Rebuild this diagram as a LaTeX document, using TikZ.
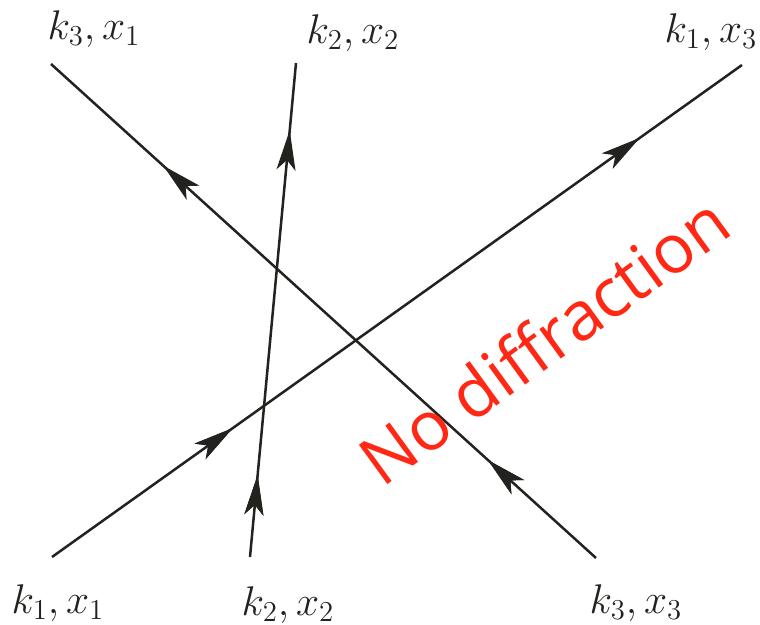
\documentclass[tikz,border=0pt]{standalone}
\usepackage{fontspec}
\newfontfamily\redfont{Open Sans}
\usetikzlibrary{arrows.meta,decorations.markings}
\definecolor{linecol}{RGB}{34,34,30}
\definecolor{redtext}{RGB}{255,40,20}
\tikzset{
  ray/.style={line width=1.25pt, draw=linecol},
  tipmark/.style={decoration={markings,
      mark=at position #1 with {\arrow[linecol]{Stealth[length=20pt,width=9.5pt,inset=5pt]}}},
      postaction={decorate}},
  lab/.style={font=\fontsize{20}{23}\selectfont, text=linecol, inner sep=0pt}
}
\begin{document}
\begin{tikzpicture}[x=0.5pt,y=-0.5pt]
\useasboundingbox (0,0) rectangle (760,625);
% endpoints
\coordinate (a1) at (52,557);
\coordinate (a2) at (742,65);
\coordinate (b1) at (250,557);
\coordinate (b2) at (296,63);
\coordinate (c1) at (596,558);
\coordinate (c2) at (51,64);
% rays
\draw[ray, tipmark=0.262, postaction={decorate, decoration={markings,
   mark=at position 0.852 with {\arrow[linecol]{Stealth[length=20pt,width=9.5pt,inset=5pt]}}}}] (a1) -- (a2);
\draw[ray, tipmark=0.166, postaction={decorate, decoration={markings,
   mark=at position 0.864 with {\arrow[linecol]{Stealth[length=20pt,width=9.5pt,inset=5pt]}}}}] (b1) -- (b2);
\draw[ray, tipmark=0.198, postaction={decorate, decoration={markings,
   mark=at position 0.794 with {\arrow[linecol]{Stealth[length=20pt,width=9.5pt,inset=5pt]}}}}] (c1) -- (c2);
% labels
\node[lab] (l1) at (94,29) {$k_3,x_1$};
\node[lab] (l2) at (353,33) {$k_2,x_2$};
\node[lab] (l3) at (711,32) {$k_1,x_3$};
\node[lab] (l4) at (58,603) {$k_1,x_1$};
\node[lab] (l5) at (288,605) {$k_2,x_2$};
\node[lab] (l6) at (636,603) {$k_3,x_3$};
% red text
\node[font=\redfont\fontsize{34}{39}\selectfont, text=redtext, rotate=36, inner sep=0pt] (nd) at (544,340) {No diffraction};
\end{tikzpicture}
\end{document}
